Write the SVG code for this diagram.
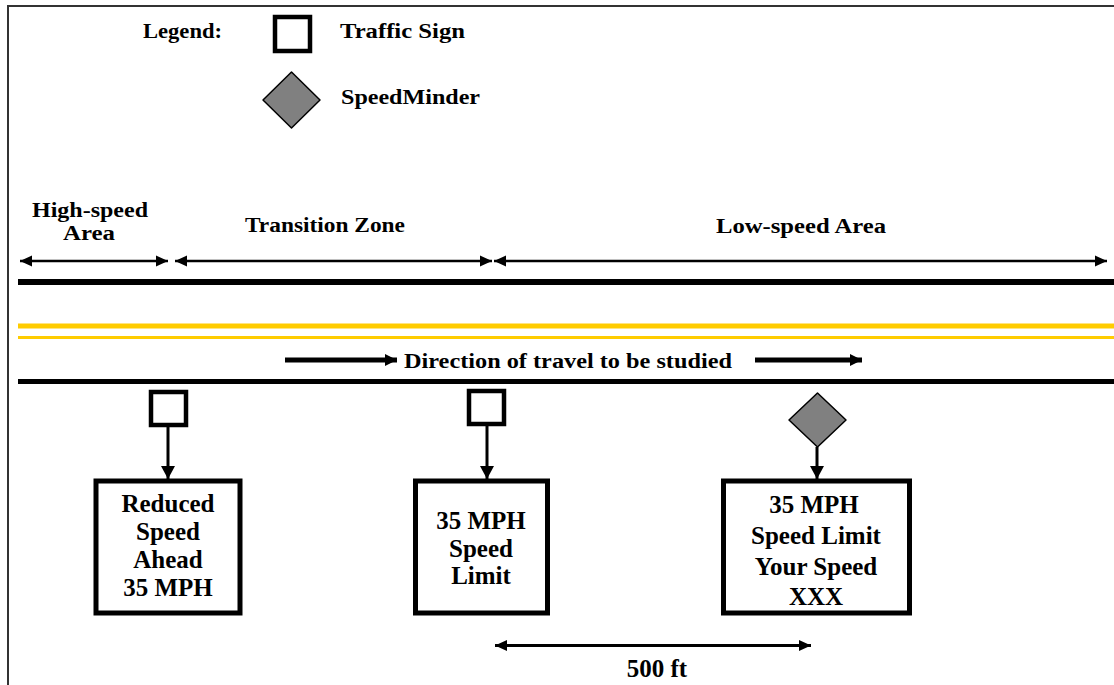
<svg xmlns="http://www.w3.org/2000/svg" width="1114" height="685" viewBox="0 0 1114 685">
<style>
.lbl{font-family:"Liberation Serif","Times New Roman",serif;font-weight:bold;font-size:20px;fill:#000}
.box{font-family:"Liberation Serif","Times New Roman",serif;font-weight:bold;font-size:25px;fill:#000;text-anchor:middle}
.sign{fill:#fff;stroke:#000;stroke-width:4.5}
.mind{fill:#808080;stroke:#000;stroke-width:1.5;stroke-linejoin:round}
.panel{fill:#fff;stroke:#000;stroke-width:5}
.zone{stroke:#000;stroke-width:2.5;fill:none}
.conn{stroke:#000;stroke-width:3;fill:none}
.dir{stroke:#000;stroke-width:5;fill:none}
</style>
<defs>
<marker id="zh" markerUnits="userSpaceOnUse" markerWidth="12" markerHeight="12" viewBox="0 0 12 12" refX="12" refY="6" orient="auto-start-reverse"><path d="M0,0.5 L12,6 L0,11.5 Z" fill="#000"/></marker>
<marker id="ch" markerUnits="userSpaceOnUse" markerWidth="14" markerHeight="14" viewBox="0 0 14 14" refX="13" refY="7" orient="auto-start-reverse"><path d="M0,0 L13,7 L0,14 Z" fill="#000"/></marker>
<marker id="dh" markerUnits="userSpaceOnUse" markerWidth="14" markerHeight="14" viewBox="0 0 14 14" refX="12" refY="7" orient="auto"><path d="M0,1 L12,7 L0,13 Z" fill="#000"/></marker>
</defs>
<rect x="0" y="0" width="1114" height="685" fill="#fff"/>
<path d="M8,685 L8,6 L1114,6" fill="none" stroke="#333" stroke-width="2"/>

<g id="legend">
<text class="lbl" x="143" y="38" textLength="79" lengthAdjust="spacingAndGlyphs">Legend:</text>
<rect class="sign" x="275" y="17" width="35" height="34"/>
<text class="lbl" x="340" y="38" textLength="125" lengthAdjust="spacingAndGlyphs">Traffic Sign</text>
<polygon class="mind" points="291.5,72 320,100 291.5,128 263,100"/>
<text class="lbl" x="341" y="104" textLength="139" lengthAdjust="spacingAndGlyphs">SpeedMinder</text>
</g>

<g id="road">
<line x1="18" y1="282" x2="1114" y2="282" stroke="#000" stroke-width="6"/>
<line x1="18" y1="326" x2="1114" y2="326" stroke="#FFCC00" stroke-width="5"/>
<line x1="18" y1="337.5" x2="1114" y2="337.5" stroke="#FFCC00" stroke-width="3"/>
<line x1="18" y1="381.5" x2="1114" y2="381.5" stroke="#000" stroke-width="5"/>
</g>

<g id="zone-labels">
<text class="lbl" x="32" y="217" textLength="116" lengthAdjust="spacingAndGlyphs">High-speed</text>
<text class="lbl" x="63" y="240" textLength="52" lengthAdjust="spacingAndGlyphs">Area</text>
<text class="lbl" x="245" y="232" textLength="160" lengthAdjust="spacingAndGlyphs">Transition Zone</text>
<text class="lbl" x="716" y="233" textLength="170" lengthAdjust="spacingAndGlyphs">Low-speed Area</text>
</g>

<g id="direction">
<text class="lbl" x="404" y="368" textLength="328" lengthAdjust="spacingAndGlyphs">Direction of travel to be studied</text>
</g>

<g id="sign1"><rect class="sign" x="151" y="392" width="35" height="33"/></g>
<g id="sign2"><rect class="sign" x="469" y="391" width="35" height="33"/></g>
<g id="speedminder"><polygon class="mind" points="817.5,393 846,420 817.5,447 789,420"/></g>

<g id="panel1">
<rect class="panel" x="96" y="481" width="144" height="132"/>
<text class="box" x="168" y="512">Reduced</text>
<text class="box" x="168" y="540">Speed</text>
<text class="box" x="168" y="568">Ahead</text>
<text class="box" x="168" y="596">35 MPH</text>
</g>
<g id="panel2">
<rect class="panel" x="415.5" y="481" width="132" height="132"/>
<text class="box" x="481" y="529">35 MPH</text>
<text class="box" x="481" y="557">Speed</text>
<text class="box" x="481" y="584">Limit</text>
</g>
<g id="panel3">
<rect class="panel" x="723.5" y="481" width="186" height="132"/>
<text class="box" x="814" y="513">35 MPH</text>
<text class="box" x="816" y="544">Speed Limit</text>
<text class="box" x="816" y="575">Your Speed</text>
<text class="box" x="816" y="605">XXX</text>
</g>

<g id="distance">
<text class="box" x="657" y="677">500 ft</text>
</g>

<g id="connectors">
<line class="zone" x1="20" y1="261" x2="168" y2="261" marker-start="url(#zh)" marker-end="url(#zh)"/>
<line class="zone" x1="175" y1="261" x2="492" y2="261" marker-start="url(#zh)" marker-end="url(#zh)"/>
<line class="zone" x1="494" y1="261" x2="1107" y2="261" marker-start="url(#zh)" marker-end="url(#zh)"/>
<line class="dir" x1="285" y1="360" x2="397" y2="360" marker-end="url(#dh)"/>
<line class="dir" x1="755" y1="360" x2="862" y2="360" marker-end="url(#dh)"/>
<line class="conn" x1="168" y1="427" x2="168" y2="479" marker-end="url(#ch)"/>
<line class="conn" x1="487" y1="426" x2="487" y2="479" marker-end="url(#ch)"/>
<line class="conn" x1="817" y1="447" x2="817" y2="479" marker-end="url(#ch)"/>
<line class="conn" x1="495" y1="645.5" x2="811" y2="645.5" marker-start="url(#zh)" marker-end="url(#zh)"/>
</g>
</svg>
